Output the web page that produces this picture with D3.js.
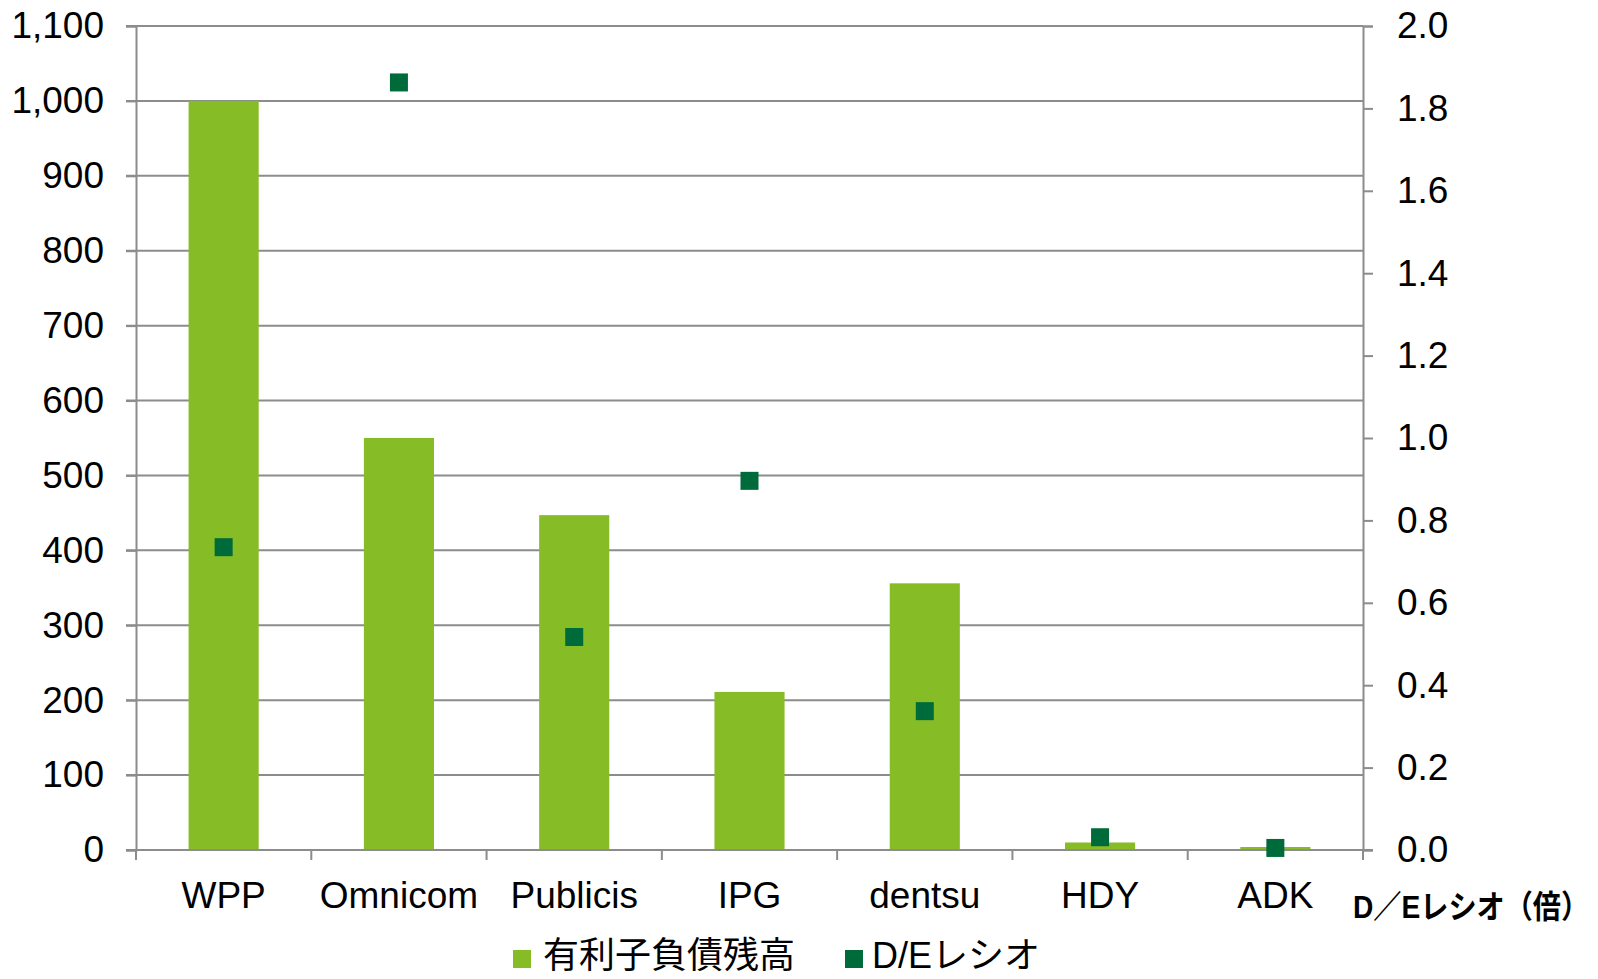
<!DOCTYPE html>
<html><head><meta charset="utf-8">
<script src="https://cdn.jsdelivr.net/npm/d3@7"></script>
<style>
html,body{margin:0;padding:0;background:#fff;}
svg{display:block;}
</style></head>
<body>
<svg id="chart" width="1598" height="979"></svg>
<script>
const categories = ["WPP","Omnicom","Publicis","IPG","dentsu","HDY","ADK"];
const debtValues = [1000, 550, 447, 211, 356, 10, 4];
const deRatioValues = [0.735, 1.863, 0.517, 0.896, 0.337, 0.031, 0.005];
const leftTicks = [0,100,200,300,400,500,600,700,800,900,1000,1100];
const rightTicks = [0,0.2,0.4,0.6,0.8,1.0,1.2,1.4,1.6,1.8,2.0];
const seriesNames = ["有利子負債残高","D/Eレシオ"];
const rightAxisTitle = "D／Eレシオ（倍）";

const barColor = "#86BC25", markColor = "#006B3A", gridColor = "#8c8c8c";
const latin = "'Liberation Sans', Arial, sans-serif";
const cjk = "'Liberation Sans', 'Noto Sans CJK JP', sans-serif";

const svg = d3.select("#chart");
const L = 136, R = 1363, T = 26, B = 850;

const x = d3.scaleBand().domain(categories).range([L,R]).paddingInner(0.6).paddingOuter(0.3);
const yL = d3.scaleLinear().domain([0,1100]).range([B,T]);
const yR = d3.scaleLinear().domain([0,2]).range([B,T]);

// gridlines
svg.append("g").selectAll("line").data(leftTicks).join("line")
  .attr("x1", L-10).attr("x2", R)
  .attr("y1", d=>yL(d)).attr("y2", d=>yL(d))
  .attr("stroke", gridColor).attr("stroke-width", 2);

// left axis
const gL = svg.append("g").attr("transform",`translate(${L},0)`)
  .call(d3.axisLeft(yL).tickValues(leftTicks).tickSize(10).tickPadding(22).tickFormat(d3.format(",")));
gL.select(".domain").attr("stroke", gridColor).attr("stroke-width",2);
gL.selectAll(".tick line").attr("stroke", gridColor).attr("stroke-width",2);
gL.selectAll("text").attr("font-family", latin).attr("font-size", 37).attr("fill","#000");

// right axis
const gR = svg.append("g").attr("transform",`translate(${R},0)`)
  .call(d3.axisRight(yR).tickValues(rightTicks).tickSize(10).tickPadding(24).tickFormat(d3.format(".1f")));
gR.select(".domain").attr("stroke", gridColor).attr("stroke-width",2);
gR.selectAll(".tick line").attr("stroke", gridColor).attr("stroke-width",2);
gR.selectAll("text").attr("font-family", latin).attr("font-size", 37).attr("fill","#000");

// bars
svg.append("g").selectAll("rect").data(categories).join("rect")
  .attr("x", d=>x(d)).attr("width", x.bandwidth())
  .attr("y", (d,i)=>yL(debtValues[i])).attr("height", (d,i)=>yL(0)-yL(debtValues[i]))
  .attr("fill", barColor);

// bottom axis line + ticks at band boundaries
const off = (x.step()-x.bandwidth())/2;
const bounds = categories.map(c=>x(c)-off).concat([R]);
svg.append("line").attr("x1",L-10).attr("x2",R+10).attr("y1",B).attr("y2",B)
  .attr("stroke",gridColor).attr("stroke-width",2);
svg.append("g").selectAll("line").data(bounds).join("line")
  .attr("x1",d=>d).attr("x2",d=>d).attr("y1",B).attr("y2",B+10)
  .attr("stroke",gridColor).attr("stroke-width",2);
svg.append("g").selectAll("text").data(categories).join("text")
  .attr("x", d=>x(d)+x.bandwidth()/2).attr("y", 908)
  .attr("text-anchor","middle").attr("font-family",latin).attr("font-size",37)
  .text(d=>d);

// markers
const ms = 18;
svg.append("g").selectAll("rect").data(categories).join("rect")
  .attr("x", d=>x(d)+x.bandwidth()/2-ms/2).attr("width", ms)
  .attr("y", (d,i)=>yR(deRatioValues[i])-ms/2).attr("height", ms)
  .attr("fill", markColor);

// right axis title
svg.append("text").attr("transform","translate(1353,918) scale(0.88,1)")
  .attr("font-family", cjk).attr("font-size", 32).attr("font-weight","bold")
  .text(rightAxisTitle);

// legend
const legend = [{name:seriesNames[0], color:barColor, sx:513, tx:543},
                {name:seriesNames[1], color:markColor, sx:845, tx:872}];
const lg = svg.append("g").selectAll("g").data(legend).join("g");
lg.append("rect").attr("x",d=>d.sx).attr("y",950).attr("width",18).attr("height",18).attr("fill",d=>d.color);
lg.append("text").attr("x",d=>d.tx).attr("y",968).attr("font-family",cjk).attr("font-size",36).text(d=>d.name);
</script>
</body></html>
